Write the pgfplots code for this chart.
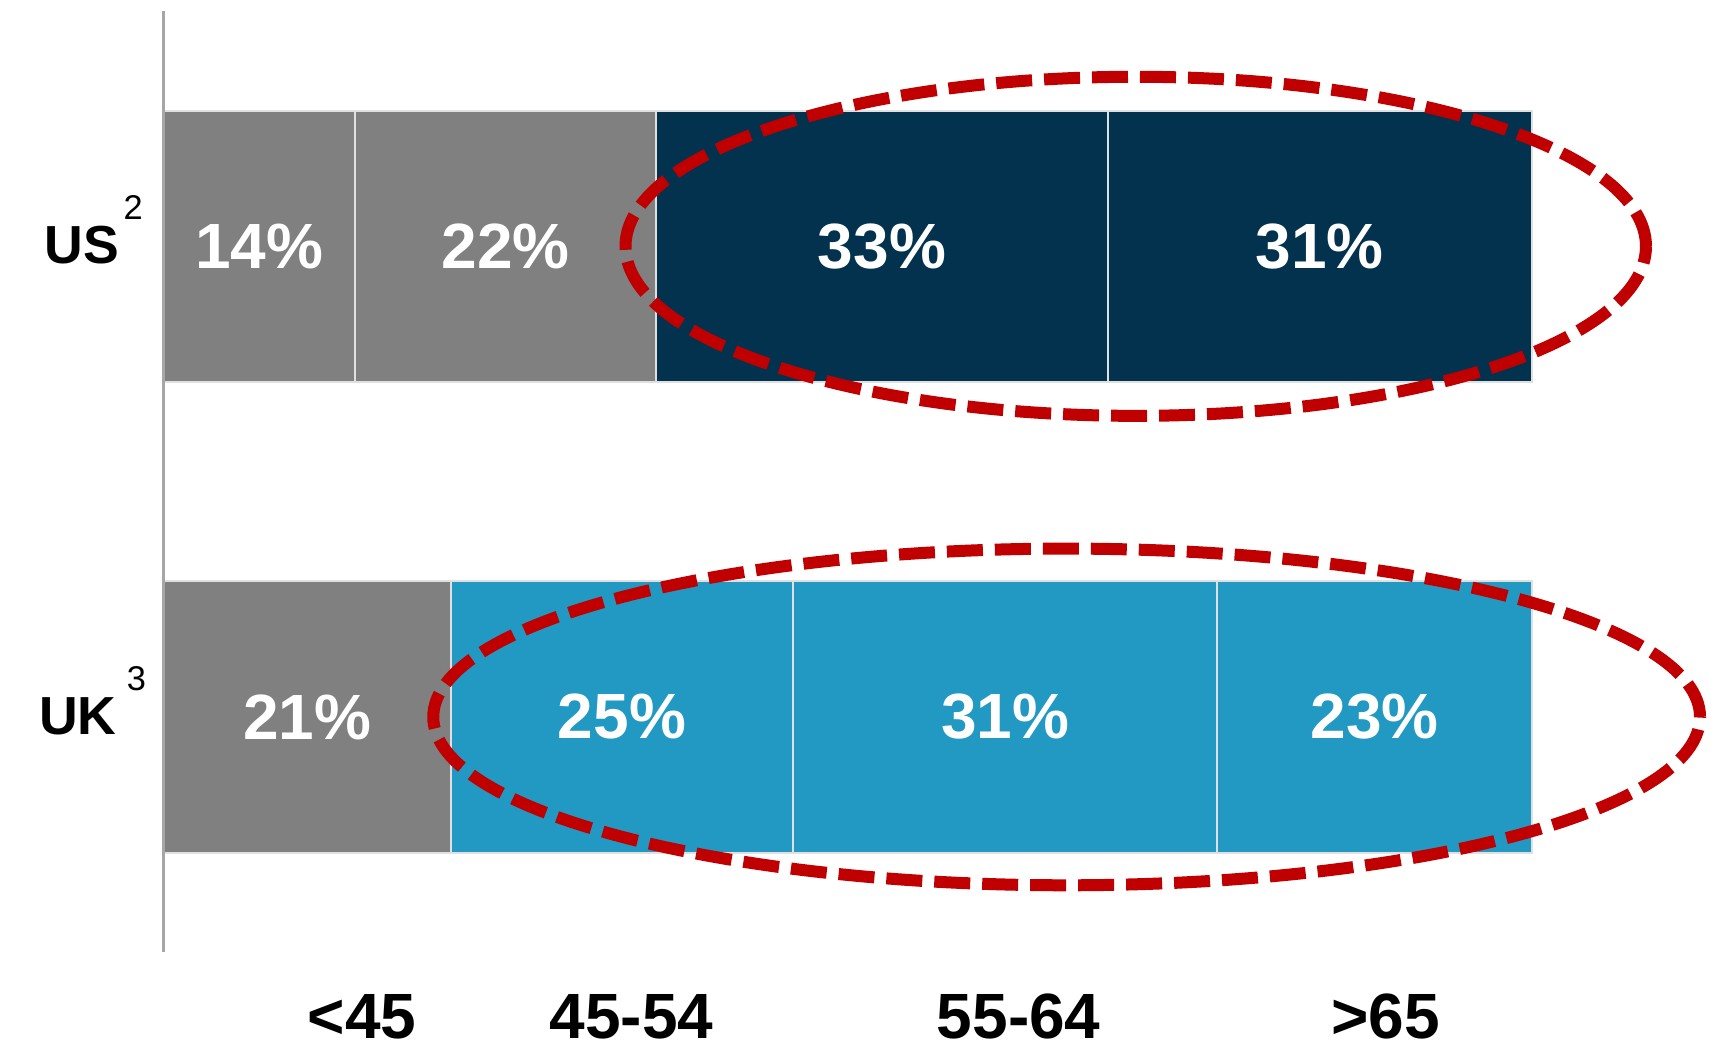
\documentclass[border=0pt]{standalone}
\usepackage{fontspec}
\setmainfont{Liberation Sans}
\usepackage{pgfplots}
\pgfplotsset{compat=1.18}
\definecolor{cgray}{HTML}{808080}
\definecolor{cnavy}{HTML}{02324E}
\definecolor{cblue}{HTML}{2199C2}
\definecolor{cred}{HTML}{C00000}
\tikzset{
  pct/.style={text=white, font=\bfseries\fontsize{16}{19}\selectfont},
  cat/.style={text=black, anchor=base, font=\bfseries\fontsize{16}{19}\selectfont},
  ell/.style={draw=cred, line width=3pt, dash pattern=on 9pt off 3pt}
}
\begin{document}
\begin{tikzpicture}
\begin{axis}[name=ax, scale only axis, width=342.2pt, height=235.4pt,
  xbar stacked, bar width=0.577, xmin=0, xmax=100, ymin=-0.5, ymax=1.5,
  hide axis, clip=false,
  every axis plot/.append style={draw=white!88!black, line width=0.5pt}]
% order of stacking: US = y 1, UK = y 0
\addplot[fill=cgray] coordinates {(14,1) (21,0)};
\addplot[fill=cgray] coordinates {(22,1) (0,0)};
\addplot[fill=cblue] coordinates {(0,1) (25,0)};
\addplot[fill=cnavy] coordinates {(33,1) (0,0)};
\addplot[fill=cblue] coordinates {(0,1) (31,0)};
\addplot[fill=cnavy] coordinates {(31,1) (0,0)};
\addplot[fill=cblue] coordinates {(0,1) (23,0)};

\coordinate (a0) at (axis cs:0,-0.5);
\coordinate (a1) at (axis cs:0,1.5);
\coordinate (p1) at (axis cs:7,1);
\coordinate (p2) at (axis cs:25,1);
\coordinate (p3) at (axis cs:52.5,1);
\coordinate (p4) at (axis cs:84.5,1);
\coordinate (q1) at (axis cs:10.5,0);
\coordinate (q2) at (axis cs:33.5,0);
\coordinate (q3) at (axis cs:61.5,0);
\coordinate (q4) at (axis cs:88.5,0);
\coordinate (us) at (axis cs:0,1);
\coordinate (uk) at (axis cs:0,0);
\coordinate (c1) at (axis cs:14.5,-0.684);
\coordinate (c2) at (axis cs:34.2,-0.684);
\coordinate (c3) at (axis cs:62.5,-0.684);
\coordinate (c4) at (axis cs:89.3,-0.684);
\coordinate (e1) at (axis cs:71.05,1.0);
\coordinate (e2) at (axis cs:66.0,0.0);
\end{axis}

\draw[color=black!35, line width=0.6pt] (a0) -- (a1);

\node[pct] at (p1) {14\%};
\node[pct] at (p2) {22\%};
\node[pct] at (p3) {33\%};
\node[pct] at (p4) {31\%};
\node[pct] at (q1) {21\%};
\node[pct] at (q2) {25\%};
\node[pct] at (q3) {31\%};
\node[pct] at (q4) {23\%};

\node[anchor=base east, inner sep=0pt, font=\bfseries\fontsize{13.4}{16}\selectfont, xshift=-5.0pt, yshift=-4.4pt]
  at (us) {US\hspace{1.2pt}\raisebox{11pt}{\normalfont\fontsize{8.6}{9}\selectfont 2}};
\node[anchor=base east, inner sep=0pt, font=\bfseries\fontsize{13.4}{16}\selectfont, xshift=-4.2pt, yshift=-4.4pt]
  at (uk) {UK\hspace{2.6pt}\raisebox{11pt}{\normalfont\fontsize{8.6}{9}\selectfont 3}};

\node[cat] at (c1) {<45};
\node[cat] at (c2) {45-54};
\node[cat] at (c3) {55-64};
\node[cat] at (c4) {>65};

\draw[ell] (e1) ellipse [x radius=127.6pt, y radius=42.4pt];
\draw[ell] (e2) ellipse [x radius=158.4pt, y radius=42.1pt];

\pgfresetboundingbox
\path ([xshift=-40.9pt, yshift=-23.75pt]ax.south west) rectangle ([xshift=47.3pt, yshift=2.75pt]ax.north east);
\end{tikzpicture}
\end{document}
